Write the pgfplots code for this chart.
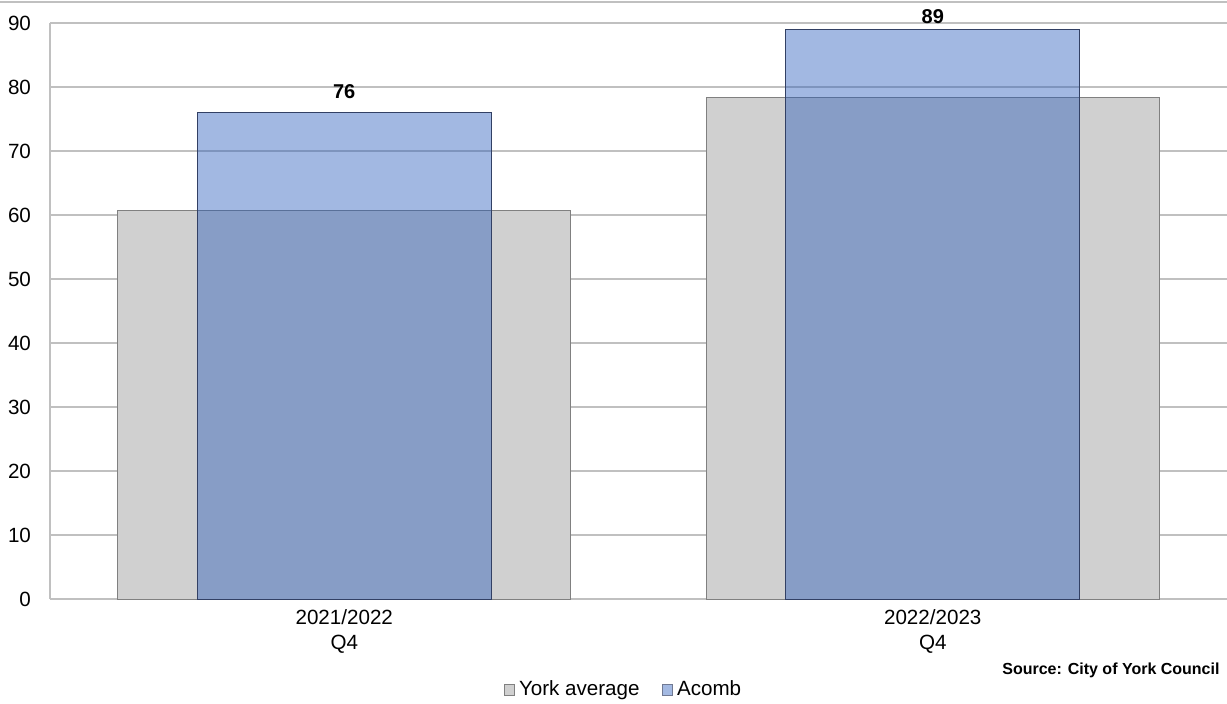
\documentclass[border=0pt]{standalone}
\usepackage{fontspec}
\setmainfont{Liberation Sans}
\usepackage{pgfplots}
\pgfplotsset{compat=1.18}
\definecolor{yorkgray}{RGB}{208,208,208}
\definecolor{yorkedge}{RGB}{128,128,128}
\definecolor{acombblue}{RGB}{39,91,187}
\definecolor{acomblight}{RGB}{163,185,226}
\definecolor{acombedge}{RGB}{50,64,100}
\definecolor{gridc}{RGB}{192,192,192}
\begin{document}
\begin{tikzpicture}
\draw[gridc, line width=0.8pt] (0,350.5pt) -- (613.5pt,350.5pt);
\begin{axis}[
  at={(25pt,52pt)}, anchor=south west,
  scale only axis, width=588.5pt, height=288pt,
  xmin=-0.5, xmax=1.5, ymin=0, ymax=90,
  ytick={0,10,...,90},
  xtick={0,1},
  xticklabels={2021/2022\\Q4, 2022/2023\\Q4},
  xticklabel style={align=center, font=\fontsize{10.3}{12.3}\selectfont, yshift=-2pt},
  yticklabel style={font=\fontsize{10.3}{12}\selectfont, xshift=-6pt},
  /pgf/number format/assume math mode=true,
  major tick length=0pt,
  axis x line*=bottom, axis y line*=left,
  x axis line style={gridc, line width=0.8pt, -},
  y axis line style={gridc, line width=0.8pt, -},
  ymajorgrids, grid style={gridc, line width=0.8pt},
  ybar, bar shift=0pt,
  clip=false,
  legend style={at={(0.488,-0.158)}, anchor=center, draw=none, fill=none,
    font=\fontsize{10.3}{12}\selectfont, legend columns=2,
    /tikz/every even column/.append style={column sep=9pt}},
]
\addplot[fill=yorkgray, draw=yorkedge, line width=0.5pt, bar width=0.769,
  legend image code/.code={\draw[fill=yorkgray, draw=yorkedge, line width=0.5pt] (0pt,-2.6pt) rectangle (5.2pt,2.6pt);}]
  coordinates {(0,60.7) (1,78.3)};
\addlegendentry{York average}
\addplot[fill=acombblue, fill opacity=0.43, draw=acombedge, line width=0.5pt, bar width=0.5,
  legend image code/.code={\draw[fill=acomblight, fill opacity=1, draw=acombedge!70, line width=0.5pt] (0pt,-2.6pt) rectangle (5.2pt,2.6pt);},
  nodes near coords, every node near coord/.append style={font=\bfseries\fontsize{10}{12}\selectfont, text opacity=1, yshift=3.5pt, /pgf/number format/assume math mode=true}]
  coordinates {(0,76)};
\addlegendentry{Acomb}
\addplot[fill=acombblue, fill opacity=0.43, draw=acombedge, line width=0.5pt, bar width=0.5, forget plot,
  nodes near coords, every node near coord/.append style={font=\bfseries\fontsize{10}{12}\selectfont, text opacity=1, yshift=-0.5pt, /pgf/number format/assume math mode=true}]
  coordinates {(1,89)};
\end{axis}
\node[anchor=east, font=\bfseries\fontsize{8}{10}\selectfont] at (613.3pt,16.5pt) {Source: City of York Council};
\pgfresetboundingbox
\useasboundingbox (0,0) rectangle (613.5pt,351.5pt);
\end{tikzpicture}
\end{document}
